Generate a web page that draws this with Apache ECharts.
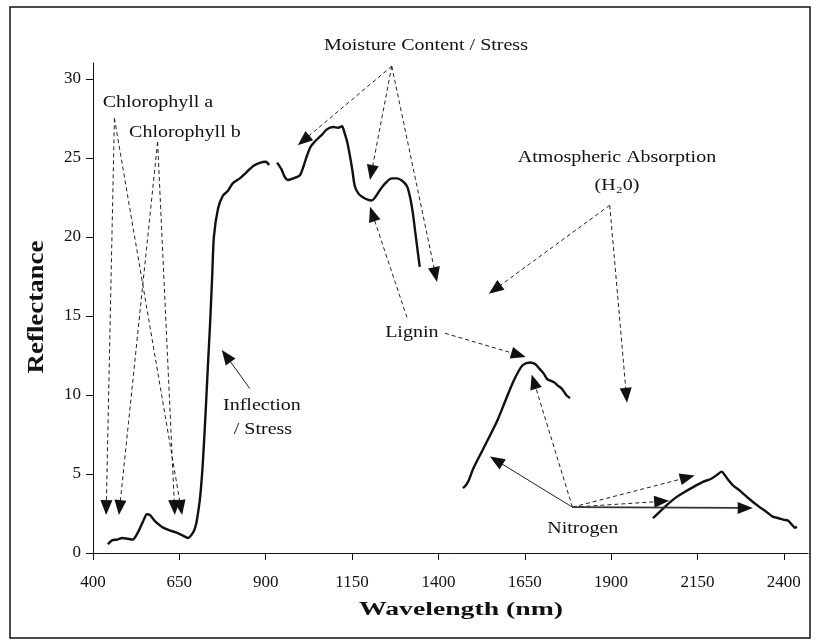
<!DOCTYPE html>
<html>
<head>
<meta charset="utf-8">
<script src="https://cdn.jsdelivr.net/npm/echarts@6/dist/echarts.min.js"></script>
<style>html,body{margin:0;padding:0;background:#fff}#c{width:818px;height:642px}</style>
</head>
<body>
<div id="c"></div>
<script>
// ---- tick labels ----
const xTicks = [400, 650, 900, 1150, 1400, 1650, 1900, 2150, 2400];
const yTicks = [0, 5, 10, 15, 20, 25, 30];

// ---- spectral reflectance curve (four segments, gaps at water absorption bands) ----
const seg1Wavelength = [443, 455, 470, 485, 500, 515, 530, 545, 556, 565, 580, 600, 620, 640, 660, 675, 690, 697, 701, 710, 718, 726, 733, 739, 745, 750, 762, 776, 790, 805, 825, 845, 865, 885, 900, 910];
const seg1Reflectance = [0.55, 0.8, 0.85, 0.95, 0.9, 0.85, 1.3, 2.0, 2.45, 2.4, 2.0, 1.65, 1.45, 1.3, 1.1, 0.95, 1.3, 1.7, 2.1, 3.5, 5.7, 8.9, 12.0, 14.5, 17.5, 20.0, 21.8, 22.6, 22.9, 23.4, 23.7, 24.1, 24.5, 24.7, 24.75, 24.55];

const seg2Wavelength = [933, 945, 955, 965, 980, 999, 1010, 1019, 1030, 1045, 1060, 1077, 1095, 1110, 1121, 1128, 1136, 1144, 1151, 1158, 1168, 1181, 1195, 1207, 1220, 1235, 1251, 1265, 1280, 1295, 1309, 1318, 1326, 1333, 1340, 1346];
const seg2Reflectance = [24.7, 24.3, 23.8, 23.6, 23.7, 23.9, 24.5, 25.1, 25.7, 26.1, 26.4, 26.8, 26.95, 26.9, 27.0, 26.6, 26.0, 25.1, 24.2, 23.2, 22.75, 22.5, 22.35, 22.3, 22.6, 23.1, 23.5, 23.7, 23.7, 23.55, 23.2, 22.5, 21.5, 20.3, 19.1, 18.1];

const seg3Wavelength = [1471, 1480, 1488, 1500, 1530, 1569, 1595, 1616, 1632, 1645, 1665, 1680, 1695, 1705, 1715, 1725, 1735, 1745, 1757, 1770, 1781];
const seg3Reflectance = [4.1, 4.3, 4.6, 5.3, 6.6, 8.3, 9.7, 10.8, 11.5, 11.9, 12.05, 11.95, 11.6, 11.35, 11.0, 10.9, 10.8, 10.6, 10.4, 10.0, 9.8];

const seg4Wavelength = [2021, 2045, 2070, 2090, 2108, 2140, 2166, 2190, 2210, 2220, 2230, 2240, 2252, 2275, 2301, 2330, 2350, 2368, 2385, 2400, 2412, 2425, 2432, 2438];
const seg4Reflectance = [2.2, 2.7, 3.2, 3.55, 3.8, 4.2, 4.5, 4.7, 5.0, 5.15, 4.9, 4.6, 4.3, 3.9, 3.4, 2.9, 2.6, 2.3, 2.2, 2.1, 2.05, 1.75, 1.6, 1.65];

// ---- annotation labels (data coordinates) ----
const labelTexts = ['Chlorophyll a', 'Chlorophyll b', 'Inflection', '/ Stress', 'Moisture Content / Stress', 'Atmospheric Absorption', '(H\u20820)', 'Lignin', 'Nitrogen'];
const labelWavelength = [588, 666, 889, 892, 1364, 1917, 1917, 1323, 1818];
const labelReflectance = [28.5, 26.6, 9.3, 7.8, 32.1, 25.0, 23.2, 13.9, 1.5];

// ---- annotation arrows (data coordinates): from -> to ----
const arrowFrom = [[462, 27.5], [462, 27.5], [587, 26.0], [587, 26.0], [854, 10.4],
  [1265, 30.8], [1265, 30.8], [1265, 30.8], [1896, 22.0], [1896, 22.0],
  [1309, 14.9], [1419, 13.9],
  [1788, 2.9], [1788, 2.9], [1788, 2.9], [1788, 2.9], [1788, 2.9]];
const arrowTo = [[438, 2.4], [658, 2.4], [475, 2.4], [637, 2.4], [773, 12.85],
  [993, 25.8], [1202, 23.6], [1396, 17.15], [1546, 16.4], [1946, 9.5],
  [1202, 21.9], [1653, 12.4],
  [1549, 6.1], [1670, 11.3], [2142, 4.9], [2068, 3.3], [2310, 2.85]];
const arrowDashed = [true, true, true, true, false,
  true, true, true, true, true,
  true, true,
  false, true, true, true, false];

const FONT = '"Liberation Serif", "Times New Roman", serif';

function pairs(xs, ys) { return xs.map((x, i) => [x, ys[i]]); }

const lineSeries = (name, xs, ys) => ({
  name, type: 'line', data: pairs(xs, ys), showSymbol: false, smooth: 0.25,
  lineStyle: { color: '#111', width: 2.4 }, silent: true, z: 3
});

const chart = echarts.init(document.getElementById('c'), null, { renderer: 'canvas' });
chart.setOption({
  animation: false,
  backgroundColor: '#fff',
  grid: { left: 93, right: 10, top: 63, bottom: 89 },
  xAxis: {
    type: 'value', min: 400, max: 2470, interval: 250,
    axisLine: { lineStyle: { color: '#111', width: 1 } },
    axisTick: { length: 7, lineStyle: { color: '#111' }, customValues: xTicks },
    axisLabel: { customValues: xTicks, margin: 21, fontFamily: FONT, fontSize: 17, color: '#111',
      formatter: v => (xTicks.indexOf(v) >= 0 ? String(v) : '') },
    splitLine: { show: false }
  },
  yAxis: {
    type: 'value', min: 0, max: 31, interval: 5,
    axisLine: { show: true, lineStyle: { color: '#111', width: 1 } },
    axisTick: { show: true, length: 7, lineStyle: { color: '#111' }, customValues: yTicks },
    axisLabel: { customValues: yTicks, margin: 12, fontFamily: FONT, fontSize: 17, color: '#111',
      formatter: v => (yTicks.indexOf(v) >= 0 ? String(v) : '') },
    splitLine: { show: false }
  },
  series: [
    lineSeries('seg1', seg1Wavelength, seg1Reflectance),
    lineSeries('seg2', seg2Wavelength, seg2Reflectance),
    lineSeries('seg3', seg3Wavelength, seg3Reflectance),
    lineSeries('seg4', seg4Wavelength, seg4Reflectance)
  ]
});

function toPx(p) { return chart.convertToPixel({ gridIndex: 0 }, p); }

const elements = [];
// outer frame
elements.push({ type: 'rect', shape: { x: 10, y: 7, width: 800, height: 631 },
  style: { fill: 'none', stroke: '#111', lineWidth: 1.5 }, silent: true, z: 1 });
// axis titles
elements.push({ type: 'text', x: 461, y: 610, scaleX: 1.54,
  style: { text: 'Wavelength (nm)', font: 'bold 18px ' + FONT, fill: '#111', align: 'center', verticalAlign: 'middle' }, silent: true });
elements.push({ type: 'text', x: 37, y: 307, rotation: Math.PI / 2, scaleX: 1.12,
  style: { text: 'Reflectance', font: 'bold 24px ' + FONT, fill: '#111', align: 'center', verticalAlign: 'middle' }, silent: true });

// annotation texts
labelTexts.forEach((t, i) => {
  const p = toPx([labelWavelength[i], labelReflectance[i]]);
  elements.push({ type: 'text', x: p[0], y: p[1], scaleX: 1.25,
    style: { text: t, font: '16px ' + FONT, fill: '#111', align: 'center', verticalAlign: 'middle' }, silent: true, z: 5 });
});

// annotation arrows
const HEAD_LEN = 15, HEAD_HALF = 6;
arrowFrom.forEach((f, i) => {
  const a = toPx(f), b = toPx(arrowTo[i]);
  const dx = b[0] - a[0], dy = b[1] - a[1];
  const len = Math.sqrt(dx * dx + dy * dy);
  const ux = dx / len, uy = dy / len;
  const bx = b[0] - ux * HEAD_LEN, by = b[1] - uy * HEAD_LEN;
  const solidThick = (i === arrowFrom.length - 1);
  elements.push({ type: 'line', shape: { x1: a[0], y1: a[1], x2: bx + ux * 2, y2: by + uy * 2 },
    style: { stroke: solidThick ? '#333' : '#222', lineWidth: solidThick ? 1.6 : 1,
      lineDash: arrowDashed[i] ? [4, 3] : null }, silent: true, z: 4 });
  elements.push({ type: 'polygon', shape: { points: [
      [b[0], b[1]],
      [bx - uy * HEAD_HALF, by + ux * HEAD_HALF],
      [bx + uy * HEAD_HALF, by - ux * HEAD_HALF]
    ] }, style: { fill: '#111' }, silent: true, z: 4 });
});

chart.setOption({ graphic: { elements } });
</script>
</body>
</html>
